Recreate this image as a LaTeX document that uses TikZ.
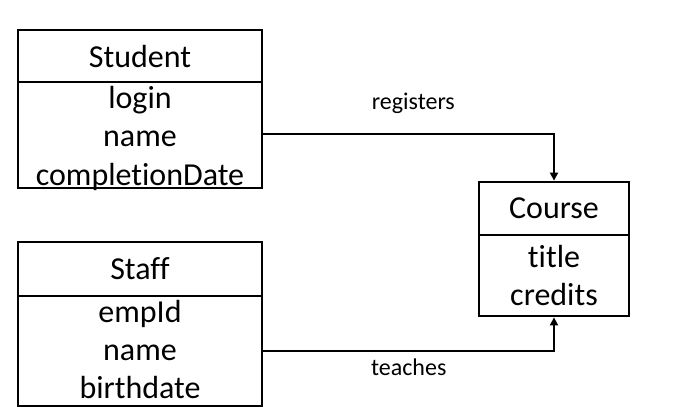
\documentclass[tikz,border=0pt]{standalone}
\usepackage{fontspec}
\setmainfont{Carlito}[Ligatures=NoCommon]
\usetikzlibrary{arrows.meta,positioning}

\begin{document}
\begin{tikzpicture}[
        x=1pt, y=-1pt,
        every node/.style={inner sep=0pt, align=center},
        entity/.style={draw, line width=2.8pt},
        attr/.style={font=\fontsize{32}{36}\selectfont, anchor=base},
        rel/.style={font=\fontsize{24}{28}\selectfont, anchor=base},
        divider/.style={line width=2.8pt},
        arrow/.style={-{Triangle[length=8pt,width=8pt]}, line width=1.8pt}
    ]
        \useasboundingbox (0,0) rectangle (699,412);
        \node[entity, minimum width=244pt, minimum height=158pt] (student) at (140,109) {};
        \node[entity, minimum width=244pt, minimum height=164pt] (staff) at (140,324) {};
        \node[entity, minimum width=150pt, minimum height=134pt] (course) at (554,249) {};
        \draw[divider] (18,82) -- (262,82);
        \draw[divider] (18,296) -- (262,296);
        \draw[divider] (479,235) -- (629,235);
        \node[attr] (studenthead) at (140,67) {Student};
        \node[attr] (studentlogin) at (140,108) {login};
        \node[attr] (studentname) at (140,146.5) {name};
        \node[attr] (studentdate) at (140,185) {completionDate};
        \node[attr] (staffhead) at (140,279) {Staff};
        \node[attr] (staffid) at (140,322) {empId};
        \node[attr] (staffname) at (140,360.5) {name};
        \node[attr] (staffbirth) at (140,398.5) {birthdate};
        \node[attr] (coursehead) at (554,218) {Course};
        \node[attr] (coursetitle) at (554,267) {title};
        \node[attr] (coursecredits) at (554,305) {credits};
        \draw[arrow] ([yshift=-25pt]student.east) -| (course.north) node[rel, pos=0.258, yshift=24pt] (registers) {registers};
        \draw[arrow] ([yshift=-27pt]staff.east) -| (course.south) node[rel, pos=0.25, yshift=-24pt] (teaches) {teaches};
    \end{tikzpicture}
\end{document}
